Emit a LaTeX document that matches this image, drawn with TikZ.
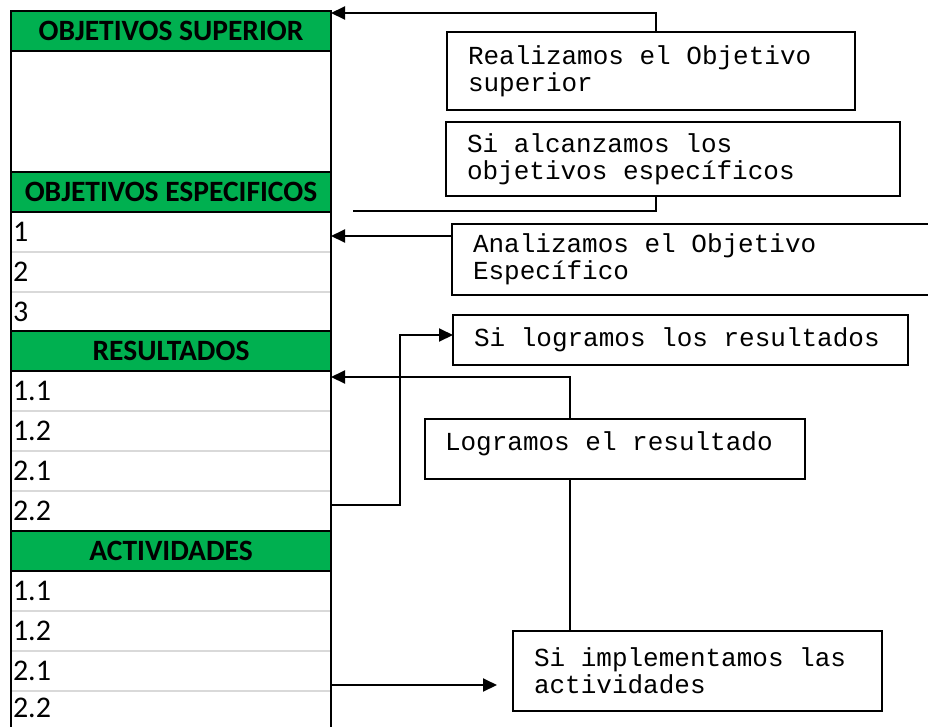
\documentclass[tikz,border=0pt]{standalone}
\usepackage{fontspec}
\setmainfont{Carlito}
\newfontfamily\mono{Liberation Mono}
\usetikzlibrary{positioning}
\usetikzlibrary{arrows.meta}
\definecolor{verde}{HTML}{00B050}
\definecolor{gris}{HTML}{D9D9D9}
\tikzset{
	encabezado/.style={draw=black, line width=2pt, fill=verde, anchor=north west, outer sep=0pt, minimum width=320pt, minimum height=40pt, inner sep=0pt, font=\fontsize{29.5}{31}\selectfont\bfseries},
	fila/.style={anchor=north west, outer sep=0pt, minimum height=40pt, text width=316pt, inner xsep=2pt, inner ysep=0pt, align=flush left, font=\fontsize{30}{32}\selectfont},
	caja/.style={draw=black, line width=1.6pt, anchor=north west, outer sep=0pt, inner xsep=21pt, align=flush left, font=\mono\fontsize{26}{27}\selectfont},
	flecha/.style={line width=2pt, -{Triangle[length=14pt,width=13pt]}},
	linea/.style={line width=2pt},
	separador/.style={draw=gris, line width=2pt},
}

\begin{document}
\begin{tikzpicture}[x=1pt, y=-1pt]
		\useasboundingbox (0,0) rectangle (928,726);
		\clip (0,0) rectangle (928,726);
		
		% tabla
		\node[encabezado] (supHdr) at (11,11) {OBJETIVOS SUPERIOR};
		\node[fila, minimum height=121pt] (supCuerpo) at (11,51) {};
		\node[encabezado] (espHdr) at (11,172) {OBJETIVOS ESPECIFICOS};
		\foreach \n [count=\i] in {1,2,3} {
			\node[fila] (esp\n) at (11,172+40*\i) {\n};
			\draw[separador] (esp\n.south west) -- (esp\n.south east);
		}
		\node[encabezado] (resHdr) at (11,331) {RESULTADOS};
		\foreach \n/\m [count=\i] in {1.1/11,1.2/12,2.1/21,2.2/22} {
			\node[fila] (res\m) at (11,331+40*\i) {\n};
			\draw[separador] (res\m.south west) -- (res\m.south east);
		}
		\node[encabezado] (actHdr) at (11,531) {ACTIVIDADES};
		\foreach \n/\m [count=\i] in {1.1/11,1.2/12,2.1/21} {
			\node[fila] (act\m) at (11,531+40*\i) {\n};
			\draw[separador] (act\m.south west) -- (act\m.south east);
		}
		\node[fila, minimum height=34pt] (act22) at (11,691) {2.2};
		\draw[linea] (supHdr.north west) -- ++(0,730);
		\draw[linea] (supHdr.north east) -- ++(0,730);
		
		% cajas
		\node[caja, text width=366pt, minimum height=78pt] (realiza) at (447,32) {Realizamos el Objetivo\\superior};
		\node[caja, text width=412pt, minimum height=74pt] (alcanza) at (446,122) {Si alcanzamos los\\objetivos específicos};
		\node[caja, text width=456pt, minimum height=71pt] (analiza) at (452,224) {Analizamos el Objetivo\\Específico};
		\node[caja, text width=413pt, minimum height=50pt] (logra) at (453,315) {Si logramos los resultados};
		\node[caja, text width=340pt, inner xsep=20pt, text height=16pt, text depth=14pt, inner ysep=15pt] (logramos) at (425,419) {Logramos el resultado};
		\node[caja, text width=327pt, minimum height=80pt] (implementa) at (513,631) {Si implementamos las\\actividades};
		\coordinate (finB) at (353,211);
		
		\draw[flecha] ([xshift=5pt]realiza.north) |- ([yshift=-2pt]supHdr.north east);
		\draw[linea] ([xshift=5pt]realiza.south |- alcanza.south) |- (finB);
		\draw[flecha] ([yshift=23.5pt]analiza.west) -- ([yshift=23.5pt]analiza.west -| esp1.east);
		\draw[flecha] ([yshift=6pt]res22.east) -- ++(69,0) |- ([yshift=5pt]logra.west);
		\draw[flecha] ([xshift=-45pt]logramos.north) |- ([yshift=-6pt]res11.north east);
		\draw[linea] ([xshift=-45pt]logramos.south) -- ([xshift=-45pt]logramos.south |- implementa.north);
		\draw[flecha, shorten >=16pt] ([yshift=-14pt]act21.east) -- ([yshift=-14pt]act21.east -| implementa.west);
	\end{tikzpicture}
\end{document}
